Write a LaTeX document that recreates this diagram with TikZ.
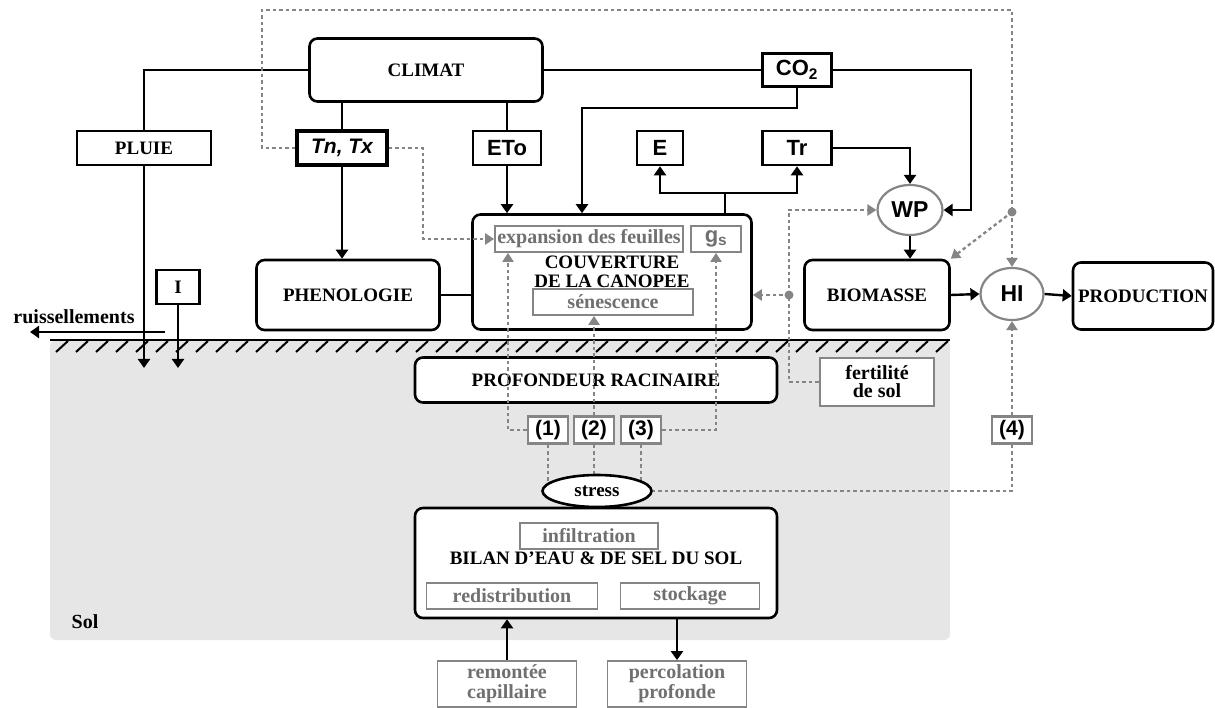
\documentclass[tikz,border=0pt]{standalone}
\usepackage{fontspec}
\setmainfont{Liberation Serif}
\setsansfont{Liberation Sans}
\usetikzlibrary{arrows.meta, shapes.geometric, backgrounds}
\definecolor{soilgrey}{HTML}{E6E6E6}
\definecolor{linegrey}{HTML}{858585}
\definecolor{textgrey}{HTML}{707070}

\begin{document}
\begin{tikzpicture}[
    x=1pt,
    y=-1pt,
    mainbox/.style={
        draw=black,
        fill=white,
        rounded corners=8pt,
        line width=2.6pt,
        align=center,
        inner sep=0pt,
        font=\fontsize{19}{19}\selectfont\bfseries
    },
    varbox/.style={
        draw=black,
        fill=white,
        line width=2.6pt,
        inner sep=0pt,
        minimum height=34pt,
        font=\sffamily\fontsize{22}{22}\selectfont\bfseries
    },
    namebox/.style={
        varbox,
        font=\fontsize{19}{19}\selectfont\bfseries
    },
    subbox/.style={
        draw=linegrey,
        fill=white,
        line width=1.8pt,
        inner sep=0pt,
        minimum height=26pt,
        align=center,
        text=textgrey,
        font=\fontsize{20}{20}\selectfont\bfseries
    },
    numbox/.style={
        draw=linegrey,
        fill=white,
        line width=2.4pt,
        inner sep=0pt,
        minimum width=40pt,
        minimum height=27pt,
        font=\sffamily\fontsize{21}{21}\selectfont\bfseries
    },
    factor/.style={
        ellipse,
        draw=linegrey,
        fill=white,
        line width=2.2pt,
        inner sep=0pt,
        font=\sffamily\fontsize{23}{23}\selectfont\bfseries
    },
    arr/.style={
        -{Triangle[length=9pt,width=12pt]},
        draw=black,
        line width=2.4pt
    },
    conn/.style={
        draw=black,
        line width=2.4pt
    },
    fx/.style={
        draw=linegrey,
        line width=2.3pt,
        dash pattern=on 3.5pt off 3pt
    },
    fxarr/.style={
        fx,
        -{Triangle[length=9pt,width=11pt]}
    },
    hatch/.style={
        draw=black,
        line width=2pt
    }
]

\useasboundingbox (0,0) rectangle (1215,708);

% -----------------------------------------------------
% Sol
% -----------------------------------------------------

\begin{scope}[on background layer]
    \fill[soilgrey, rounded corners=6pt] (50,340) rectangle (950,640);
\end{scope}

\draw[hatch, line width=2.6pt] (50,340) -- (950,340);
\foreach \hx in {56,76,...,936}
    \draw[hatch] (\hx,352) -- ++(12,-11);

\node[font=\fontsize{20}{21}\selectfont\bfseries] (sol) at (85,622) {Sol};

% -----------------------------------------------------
% Noeuds
% -----------------------------------------------------

\node[mainbox, minimum width=233pt, minimum height=63pt] (climat) at (426,70) {CLIMAT};

\node[namebox, minimum width=134pt] (pluie) at (144,148) {PLUIE};
\node[varbox, line width=3.6pt, minimum width=90pt,
      font=\sffamily\fontsize{21}{21}\selectfont\bfseries\itshape] (tntx) at (342,148) {Tn, Tx};
\node[varbox, minimum width=68pt] (eto) at (507,148) {ETo};
\node[varbox, minimum width=69pt, minimum height=33pt] (co2) at (797,70) {CO\textsubscript{2}};
\node[varbox, minimum width=46pt] (e) at (660,148) {E};
\node[varbox, minimum width=69pt] (tr) at (797,148) {Tr};
\node[namebox, minimum width=43pt] (irrig) at (178,287) {I};

\node[font=\fontsize{20}{20}\selectfont\bfseries] (ruis) at (74,317) {ruissellements};

\node[mainbox, minimum width=183pt, minimum height=70pt] (pheno) at (348,295) {PHENOLOGIE};

\node[mainbox, minimum width=279pt, minimum height=115pt] (canopy) at (612,272)
{
    COUVERTURE\\DE LA CANOPEE
};
\node[subbox, minimum width=188pt] (expand) at (589,239) {expansion des feuilles};
\node[subbox, minimum width=50pt,
      font=\sffamily\fontsize{22}{22}\selectfont\bfseries] (gs) at (716,239) {g\textsubscript{s}};
\node[subbox, minimum width=160pt] (senes) at (613,302) {sénescence};

\node[factor, minimum width=65pt, minimum height=50pt] (wp) at (910,210) {WP};
\node[mainbox, minimum width=145pt, minimum height=70pt] (biomasse) at (877,295) {BIOMASSE};
\node[factor, minimum width=63pt, minimum height=52pt] (hi) at (1012,294) {HI};
\node[mainbox, minimum width=140pt, minimum height=67pt] (production) at (1143,296) {PRODUCTION};

\node[mainbox, minimum width=362pt, minimum height=45pt] (racine) at (596,380) {PROFONDEUR RACINAIRE};
\node[draw=linegrey, fill=white, line width=2.6pt, inner sep=0pt,
      minimum width=114pt, minimum height=48pt, align=center,
      font=\fontsize{20}{18}\selectfont\bfseries] (fert) at (877,382) {fertilité\\de sol};

\node[numbox] (n1) at (548,430) {(1)};
\node[numbox] (n2) at (594,430) {(2)};
\node[numbox] (n3) at (641,430) {(3)};
\node[numbox] (n4) at (1012,430) {(4)};

\node[ellipse, draw=black, fill=white, line width=2.6pt, inner sep=0pt,
      minimum width=109pt, minimum height=32pt,
      font=\fontsize{19}{19}\selectfont\bfseries] (stress) at (597,491) {stress};

\node[mainbox, minimum width=362pt, minimum height=110pt] (bilan) at (596,563)
{
    \\[3pt]BILAN D’EAU \& DE SEL DU SOL\\ \mbox{}
};
\node[subbox, minimum width=138pt] (infil) at (589,536) {infiltration};
\node[subbox, minimum width=171pt] (redis) at (512,596) {redistribution};
\node[subbox, minimum width=139pt] (stock) at (690,596) {stockage};

\node[subbox, minimum width=139pt, minimum height=46pt] (remontee) at (507,684) {remontée\\capillaire};
\node[subbox, minimum width=139pt, minimum height=46pt] (perco) at (677,684) {percolation\\profonde};

% -----------------------------------------------------
% Flux principaux
% -----------------------------------------------------

\coordinate (rainend) at (144,368);
\coordinate (irrigend) at (178,368);
\coordinate (ruis1) at (165,332);
\coordinate (ruis2) at (30,332);
\coordinate (co2bend) at (582,108);
\coordinate (co2right) at (971,70);
\coordinate (split) at (725,193);

\draw[conn] (climat.west) -| (pluie.north);
\draw[conn] (climat.south -| tntx.north) -- (tntx.north);
\draw[conn] (climat.south -| eto.north) -- (eto.north);
\draw[conn] (climat.east) -- (co2.west);

\draw[arr] (pluie.south) -- (rainend);
\draw[arr] (irrig.south) -- (irrigend);
\draw[arr] (ruis1) -- (ruis2);

\draw[arr] (tntx.south) -- (tntx.south |- pheno.north);
\draw[arr] (eto.south) -- (eto.south |- canopy.north);
\draw[arr] (co2.south) |- (co2bend) -- (co2bend |- canopy.north);
\draw[arr] (co2.east) -- (co2right) |- (wp.east);

\draw[conn] (canopy.north -| split) -- (split);
\draw[arr] (split) -| (e.south);
\draw[arr] (split) -| (tr.south);
\draw[arr] (tr.east) -| (wp.north);

\draw[conn] (pheno.east) -- (pheno.east -| canopy.west);

\draw[arr] (wp.south) -- (wp.south |- biomasse.north);
\draw[arr] (biomasse.east) -- (hi.west);
\draw[arr] (hi.east) -- (production.west);

\draw[arr] (remontee.north) -- (remontee.north |- bilan.south);
\draw[arr] (bilan.south -| perco.north) -- (perco.north);

% -----------------------------------------------------
% Effets (pointilles)
% -----------------------------------------------------

\coordinate (topleft) at (262,10);
\coordinate (hidot) at (1012,212);
\coordinate (expbend) at (423,239);
\coordinate (fertbend) at (789,382);
\coordinate (candot) at (789,295);
\coordinate (n1bend) at (508,430);

\draw[fx] (tntx.west) -| (topleft) -| (hidot);
\draw[fxarr] (hidot) -- (hi.north);
\draw[fxarr] (hidot) -- (biomasse.north east);
\fill[linegrey] (hidot) circle (4.5);

\draw[fxarr] (tntx.east) -| (expbend) -- (expand.west);

\draw[fx] (fert.west) -- (fertbend) -- (candot);
\draw[fxarr] (candot) -- (candot -| canopy.east);
\draw[fxarr] (candot) |- (wp.west);
\fill[linegrey] (candot) circle (4.5);

\draw[fxarr] (n1.west) -- (n1bend) -- (n1bend |- expand.south);
\draw[fxarr] (n2.north) -- (n2.north |- senes.south);
\draw[fxarr] (n3.east) -| (gs.south);
\draw[fxarr] (n4.north) -- (hi.south);
\draw[fx] (n4.south) |- (stress.east);

\begin{scope}[on background layer]
    \draw[fx] (n1.south) -- (n1.south |- stress.center);
    \draw[fx] (n2.south) -- (n2.south |- stress.center);
    \draw[fx] (n3.south) -- (n3.south |- stress.center);
\end{scope}

\end{tikzpicture}
\end{document}
